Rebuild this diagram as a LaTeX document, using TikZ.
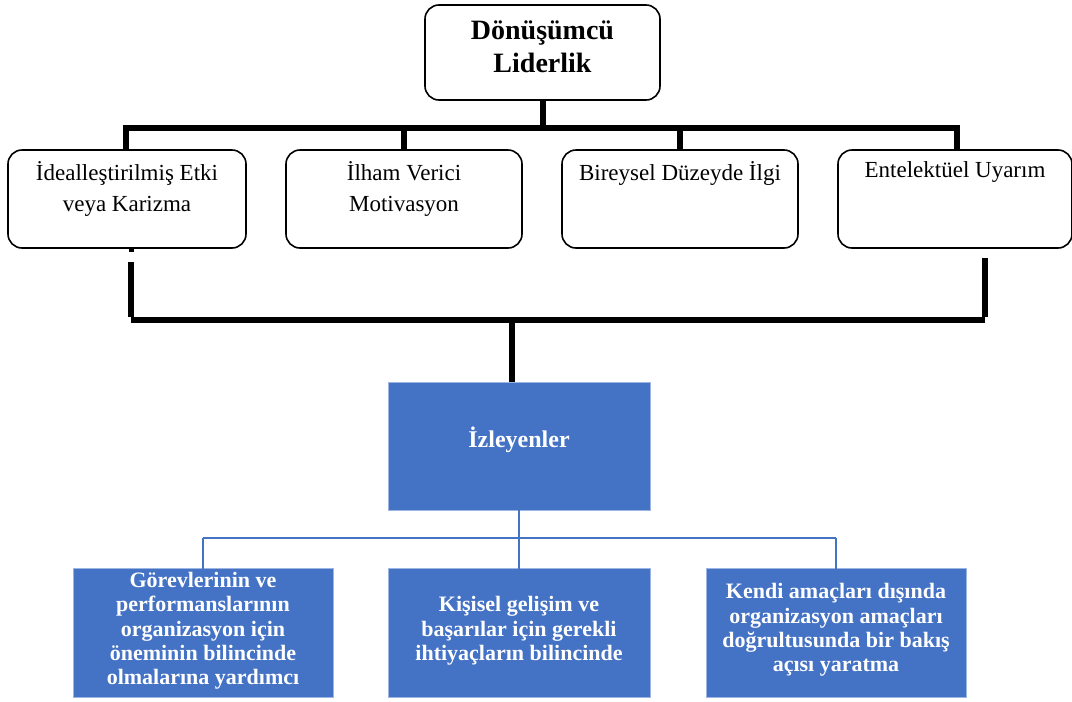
\documentclass[tikz,border=0pt]{standalone}
\usepackage{fontspec}
\setmainfont{Liberation Serif}
\definecolor{fblue}{HTML}{4472C4}
\definecolor{eblue}{HTML}{9DB5E3}
\begin{document}
\begin{tikzpicture}[x=1pt,y=-1pt,
  wbox/.style={draw=black,line width=1.6pt,rounded corners=14pt,fill=white,inner sep=0pt},
  bbox/.style={draw=eblue,line width=0.8pt,fill=fblue,inner sep=0pt},
  thick bar/.style={line width=6pt,draw=black},
  blue link/.style={line width=2pt,draw=fblue},
  wtext/.style={align=center,font=\fontsize{23}{31}\selectfont,inner sep=0pt},
  btext/.style={align=center,text=white,font=\bfseries\fontsize{22}{24.3}\selectfont,inner sep=0pt}]
\useasboundingbox (0,0) rectangle (1072,702);
% top box
\node[wbox,minimum width=235pt,minimum height=95pt] (top) at (542.5,52.5) {};
\node[align=center,font=\bfseries\fontsize{28}{33}\selectfont,inner sep=0pt] (toptext) at (542.5,47) {Dönüşümcü\\Liderlik};
% second row
\node[wbox,minimum width=238pt,minimum height=98pt] (b1) at (127,199) {};
\node[wbox,minimum width=236pt,minimum height=98pt] (b2) at (404,199) {};
\node[wbox,minimum width=236pt,minimum height=98pt] (b3) at (680,199) {};
\node[wbox,minimum width=234pt,minimum height=98pt] (b4) at (955,199) {};
\node[wtext,anchor=north] (t1) at (127,161) {İdealleştirilmiş Etki\\veya Karizma};
\node[wtext,anchor=north] (t2) at (404,161) {İlham Verici\\Motivasyon};
\node[wtext,anchor=north] (t3) at (680,161) {Bireysel Düzeyde İlgi};
\node[wtext,anchor=north] (t4) at (955,161) {Entelektüel Uyarım};
% top connectors
\coordinate (barL) at (126,128);
\coordinate (barR) at (957,128);
\draw[thick bar] (top.south) -- (top.south |- barL);
\draw[thick bar] ([xshift=-3pt]barL) -- ([xshift=3pt]barR);
\draw[thick bar] (barL) -- (b1.north -| barL);
\draw[thick bar] (b2.north |- barL) -- (b2.north);
\draw[thick bar] (b3.north |- barL) -- (b3.north);
\draw[thick bar] (barR) -- (b4.north -| barR);
% lower bracket
\coordinate (stub) at (131,249);
\coordinate (lL0) at (131,262);
\coordinate (lL1) at (131,320);
\coordinate (lR0) at (985,258);
\coordinate (lR1) at (985,320);
\coordinate (lC) at (512,320);
\draw[line width=5pt] (stub) -- ++(0,3);
\draw[thick bar] (lL0) -- ([yshift=3pt]lL1);
\draw[thick bar] (lR0) -- ([yshift=3pt]lR1);
\draw[thick bar] (lL1) -- (lR1);
% followers box
\node[bbox,minimum width=262pt,minimum height=128pt] (fol) at (519,446) {};
\node[btext,font=\bfseries\fontsize{24}{24}\selectfont] (foltext) at (519,440) {İzleyenler};
\draw[thick bar] (lC) -- (lC |- fol.north);
% bottom boxes
\node[bbox,minimum width=260pt,minimum height=129pt] (c1) at (203,632.5) {};
\node[bbox,minimum width=262pt,minimum height=129pt] (c2) at (519,632.5) {};
\node[bbox,minimum width=260pt,minimum height=129pt] (c3) at (836,632.5) {};
\node[btext] (ct1) at (203,631) {Görevlerinin ve\\performanslarının\\organizasyon için\\öneminin bilincinde\\olmalarına yardımcı};
\node[btext] (ct2) at (519,631) {Kişisel gelişim ve\\başarılar için gerekli\\ihtiyaçların bilincinde};
\node[btext] (ct3) at (836,630) {Kendi amaçları dışında\\organizasyon amaçları\\doğrultusunda bir bakış\\açısı yaratma};
% blue links
\coordinate (bj) at (519,538);
\draw[blue link] ([yshift=6pt]fol.south) -- ([yshift=-3pt]c2.north);
\draw[blue link] (c1.north |- bj) -- (c3.north |- bj);
\draw[blue link] (c1.north |- bj) -- ([yshift=-3pt]c1.north);
\draw[blue link] (c3.north |- bj) -- ([yshift=-3pt]c3.north);
\end{tikzpicture}
\end{document}
